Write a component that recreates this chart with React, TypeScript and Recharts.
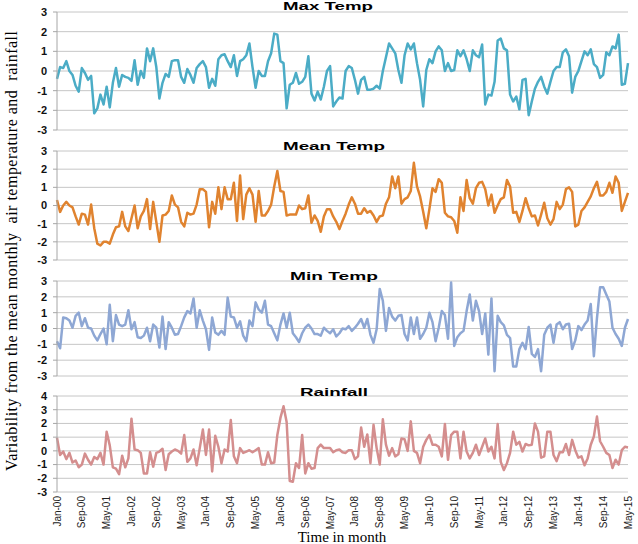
import React from 'react';
import { LineChart, Line, XAxis, YAxis, CartesianGrid } from 'recharts';

const MONTH_NAMES = ['Jan', 'Feb', 'Mar', 'Apr', 'May', 'Jun', 'Jul', 'Aug', 'Sep', 'Oct', 'Nov', 'Dec'];
const MONTH_COUNT = 185; // Jan-00 .. May-15
const categories: string[] = Array.from({ length: MONTH_COUNT }, (_, i) =>
  `${MONTH_NAMES[i % 12]}-${String(Math.floor(i / 12)).padStart(2, '0')}`
);

const TICK_LABELS = [
  'Jan-00', 'Sep-00', 'May-01', 'Jan-02', 'Sep-02', 'May-03', 'Jan-04', 'Sep-04',
  'May-05', 'Jan-06', 'Sep-06', 'May-07', 'Jan-08', 'Sep-08', 'May-09', 'Jan-10',
  'Sep-10', 'May-11', 'Jan-12', 'Sep-12', 'May-13', 'Jan-14', 'Sep-14', 'May-15',
];

const maxTemp = [
  -0.4, 0.2, 0.15, 0.5, 0, -0.2, -0.75, -1.05, 0.15, -0.1,
  -0.45, -0.25, -2.15, -1.9, -1.2, -1.7, -0.8, -1.85, -0.6, 0.15,
  -0.8, -0.2, -0.3, -0.35, -0.5, 0.55, -0.7, 0, -0.35, 1.15,
  0.5, 1.15, 0.2, -1.4, -0.6, -0.15, -0.3, 0.5, 0.55, 0.55,
  -0.3, -0.6, 0.1, -0.2, -0.6, 0.15, 0.35, 0.5, 0.2, -0.85,
  -0.4, -0.75, 0.6, 0.8, 0.85, 0.5, 0.2, 0.8, -0.25, 0.5,
  0.6, 0.8, 1.4, 0.2, -0.85, 0, -0.25, -0.25, 0.5, 0.9,
  1.9, 1.85, 0.5, 0.4, -1.9, -0.7, -0.6, -0.1, -0.65, -0.55,
  -0.3, 0.75, -1.15, -1.5, -1.05, -1.45, -0.8, 0, 0.25, -1.8,
  -1.55, -1.35, -1.4, 0, 0.25, 0.15, -0.45, -1.15, -0.45, -0.3,
  -0.95, -0.95, -0.9, -0.75, -0.9, 0, 0.7, 1.4, 1.15, 0.9,
  0.05, -0.6, 0.8, 1.4, 1.1, 1.4, 0.4, -0.45, -1.8, 0.05,
  0.6, 0.4, 1.0, 1.25, 1.05, 0, 0.4, 0, 0.05, 1.05,
  0.75, 1.05, 0.6, 0, 1.05, 0.8, 0.7, 1.35, -1.7, -1.2,
  -1.25, -0.55, 1.55, 1.65, 1.15, 1.05, -1.2, -1.55, -1.3, -1.95,
  -0.45, -0.4, -2.25, -1.55, -0.9, -0.55, -0.3, -0.8, -1.15, -0.55,
  0, 0.2, 0.2, 0.95, 1.1, 0.75, -1.1, -0.3, 0, 0.5,
  1.0, 0.8, 1.1, 0.35, 0.2, -0.35, -0.2, 0.95, 0.8, 1.25,
  1.15, 1.85, -0.7, -0.65, 0.4,
];

const meanTemp = [
  0.3, -0.35, 0, 0.2, 0, -0.1, -0.6, -1.05, -0.45, -0.5,
  -1.05, 0.05, -1.25, -2.1, -2.2, -2.0, -2.0, -2.1, -1.6, -1.2,
  -1.15, -0.35, -1.15, -1.4, -0.7, 0, -1.25, -0.6, -0.3, 0.35,
  -1.3, 0.2, -0.9, -2.0, -0.55, -0.5, -0.3, 0.55, 0.05, -0.1,
  -0.9, -1.15, -0.4, -0.5, -0.45, 0.05, 0.9, 0.9, 0.75, -1.2,
  0.2, -0.45, 1.0, -0.2, 1.0, 0.35, 0.35, 1.25, -0.85, 1.65,
  -0.75, 0.6, 0.95, 0.6, -0.9, 0.8, -0.55, -0.55, -0.3, 0.05,
  1.05, 1.9, 0.8, 0.75, -0.55, -0.5, -0.5, -0.5, 0, -0.2,
  -0.15, 0.55, -0.95, -0.55, -0.85, -1.45, -0.6, -0.2, -0.2, -0.6,
  -0.9, -1.3, -0.85, -0.45, 0.05, 0.45, 0.1, -0.45, -0.45, -0.15,
  -0.4, -0.3, -0.55, -0.9, -0.6, -0.55, 0.1, 0.45, 1.6, 0.95,
  1.6, 0.1, 0.35, 0.45, 0.8, 2.35, 1.05, 0.5, -0.35, -1.25,
  -0.2, 0.95, 0.75, 1.45, 1.25, -0.4, -0.6, -0.65, -0.85, -1.5,
  0.45, -0.3, 1.4, 0.4, 0.1, 0.95, 1.25, 1.3, 0.9, 0,
  0.6, -0.4, 0, 0.35, 0.45, 1.4, 1.05, -0.4, -0.35, -0.9,
  -0.3, 0.4, -0.15, -0.6, -0.55, -1.1, -0.5, 0.15, -0.7, -1.05,
  -0.75, 0.2, -0.2, 0.05, 0.9, 1.0, 0.75, -1.15, -1.05, -0.3,
  -0.1, 0.2, 0.5, 0.95, 1.3, 0.55, 0.55, 0.75, 1.25, 0.7,
  1.6, 1.25, -0.3, 0.2, 0.7,
];

const minTemp = [
  -0.8, -1.25, 0.7, 0.65, 0.5, 0.05, 0.8, 1.0, 0.15, 0.65,
  0.05, 0, -0.45, -0.75, -0.35, 0, -1.0, 1.5, -0.8, 0.85,
  0.25, 0.15, 0.25, 1.15, -0.05, 0.4, -0.55, -0.6, -0.45, 0.05,
  -0.8, 0.25, 0.05, -1.2, 0.75, -1.3, 0.4, 0.05, -0.4, -0.35,
  0.15, 0.7, 1.1, 0.95, 1.9, 0.05, 1.15, 0.5, -0.05, -1.35,
  0.7, -0.25, -0.4, -0.15, -0.4, 1.95, 0.75, 0.7, 0.05, 0.45,
  -0.45, -0.8, 0.5, 0.15, 1.65, 1.2, 1.0, 1.75, 0.25, 0.15,
  -0.3, -0.75, 0.25, 0.95, 0.05, 1.0, -0.3, -0.55, -0.85, -0.3,
  0.05, 0.25, 0, -0.35, -0.35, -0.45, 0.05, -0.15, -0.3, -0.05,
  -0.5, -0.3, 0, -0.05, 0.15, -0.15, 0.05, 0.3, 0.6, 0.05,
  0.6, -0.4, -0.9, -0.05, 2.5, 1.75, -0.15, 1.3, 0.75, 0.5,
  0.8, 0.85, -0.35, -0.75, 0.7, -0.35, 0.7, -0.65, -0.35, 0.05,
  1.0, 0.4, -0.8, 0.05, 1.1, 0.85, -0.65, 2.9, -1.1, -0.55,
  -0.3, -0.15, 1.1, 2.15, 0.5, 1.75, 1.1, -0.35, 0.95, -1.65,
  1.9, -2.7, 0.8, 0.4, 0.2, -0.4, -0.6, -2.4, -2.4, -1.3,
  -0.9, -1.3, 0.1, -1.6, -1.8, -1.3, -2.7, -0.4, 0.05, 0.25,
  -0.9, 0.25, 0.4, -0.05, 0.25, 0.3, -1.3, -0.75, 0.15, -0.1,
  0.25, 0.5, 1.55, -1.75, 0.65, 2.6, 2.6, 2.15, 1.7, 0.05,
  -0.35, -0.65, -1.1, 0.05, 0.6,
];

const rainfall = [
  0.95, -0.3, -0.05, -0.6, -0.15, -0.85, -0.7, -1.2, -1.0, -0.2,
  -0.65, -1.0, -0.45, -0.6, -0.15, -1.0, 1.4, 0.4, -1.2, -1.3,
  -1.7, -0.35, -1.2, -0.55, 2.35, 0.1, 0.05, -0.15, -1.65, -1.65,
  -0.1, -1.15, -0.15, -0.05, 0.15, -1.4, -0.25, -0.05, 0.1, 0,
  -0.2, 1.15, -0.8, -0.55, 0.1, -1.05, 0.2, 1.55, -0.3, 1.55,
  -1.5, 1.1, 0.3, -0.9, 0.1, -0.05, 2.25, -0.4, -0.9, 0.2,
  -0.15, -0.05, 0.05, -0.1, 0.05, 0.2, -1.0, -1.0, -0.1, -0.9,
  -0.85, 1.15, 2.4, 3.25, 2.1, -2.2, -2.25, -0.9, -1.25, 1.15,
  -1.65, -0.9, -1.3, -1.25, 0.2, 0.45, 0.2, 0.2, 0.2, -0.1,
  0.05, 0.1, -0.1, -0.15, 0.05, 0.05, -0.6, -0.4, 1.7, 0.3,
  1.2, -0.9, 1.9, 0.2, -1.0, 2.3, 0.45, -0.35, 0.2, -0.4,
  -0.25, 0.9, 0.85, 0, 2.15, 0, -0.15, -0.9, 0.3, 0.8,
  1.15, 0.45, 0.45, 0.3, -0.4, 1.95, -0.65, 1.15, 1.4, 1.4,
  -0.55, 1.4, -0.05, -0.55, -0.15, 0.45, -0.3, 0.3, 0.9, -0.05,
  0.3, -0.55, 1.95, -0.8, -1.4, -0.9, -0.15, 1.4, 0.45, 0.65,
  -0.05, 0.5, 0.4, 0.45, 2.0, 1.4, -0.5, -0.4, 1.4, 1.4,
  -0.3, -0.75, -0.1, -0.1, 0.5, -0.3, 0.8, 0.05, -0.5, -0.4,
  -1.05, -0.55, 0.45, 1.05, 2.5, 0.7, 0.3, -0.15, -0.3, -1.25,
  -0.65, -1.0, 0.05, 0.3, 0.25,
];

const rows = categories.map((month, i) => ({
  month,
  max: maxTemp[i],
  mean: meanTemp[i],
  min: minTemp[i],
  rain: rainfall[i],
}));

const PANELS = [
  { key: 'max', title: 'Max Temp', color: '#4BACC6', top: 0, marginTop: 12, plotH: 118, domain: [-3, 3], ticks: [-3, -2, -1, 0, 1, 2, 3], titleX: 328, titleY: 9.5, titleW: 90 },
  { key: 'mean', title: 'Mean Temp', color: '#E0832F', top: 140, marginTop: 11, plotH: 109, domain: [-3, 3], ticks: [-3, -2, -1, 0, 1, 2, 3], titleX: 334, titleY: 149.5, titleW: 102 },
  { key: 'min', title: 'Min Temp', color: '#8EA7D4', top: 270, marginTop: 11, plotH: 95, domain: [-3, 3], ticks: [-3, -2, -1, 0, 1, 2, 3], titleX: 334, titleY: 280, titleW: 88 },
  { key: 'rain', title: 'Rainfall', color: '#D48E8E', top: 385, marginTop: 11, plotH: 96, domain: [-3, 4], ticks: [-3, -2, -1, 0, 1, 2, 3, 4], titleX: 334, titleY: 396, titleW: 68 },
];

const XTick = (props: any) => {
  const { x, y, payload } = props;
  return (
    <text
      x={x}
      y={y}
      transform={`rotate(-90 ${x} ${y})`}
      textAnchor="end"
      dominantBaseline="central"
      fontSize={10}
      fontFamily="'Liberation Sans Narrow', 'Liberation Sans', Arial, sans-serif"
      fill="#222"
    >
      {payload.value}
    </text>
  );
};

export default function App() {
  return (
    <div style={{ position: 'absolute', left: 0, top: 0, width: 638, height: 544, background: '#fff', overflow: 'hidden' }}>
      {PANELS.map((p, idx) => {
        const isBottom = idx === PANELS.length - 1;
        const xAxisH = isBottom ? 50 : 0;
        const bottomPad = isBottom ? 0 : 8;
        const height = p.marginTop + p.plotH + (isBottom ? xAxisH : bottomPad);
        return (
          <div key={p.key} style={{ position: 'absolute', left: 0, top: p.top }}>
            <LineChart
              width={638}
              height={height}
              data={rows}
              margin={{ top: p.marginTop, right: 10, bottom: bottomPad, left: 0 }}
            >
              <CartesianGrid horizontal vertical={false} stroke="#C6C6C6" strokeWidth={1} />
              <XAxis
                dataKey="month"
                hide={!isBottom}
                ticks={TICK_LABELS}
                interval={0}
                tickLine={false}
                axisLine={false}
                tickSize={0}
                tickMargin={4}
                height={xAxisH}
                tick={<XTick />}
              />
              <YAxis
                type="number"
                domain={p.domain}
                ticks={p.ticks}
                interval={0}
                width={57}
                axisLine={{ stroke: '#A6A6A6' }}
                tickLine={{ stroke: '#A6A6A6' }}
                tickSize={4}
                tickMargin={6}
                tick={{ fontSize: 11, fontWeight: 'bold', fill: '#111', fontFamily: "'Liberation Sans', Arial, sans-serif" }}
              />
              <Line
                type="linear"
                dataKey={p.key}
                stroke={p.color}
                strokeWidth={2.5}
                dot={false}
                activeDot={false}
                strokeLinejoin="round"
                isAnimationActive={false}
              />
            </LineChart>
          </div>
        );
      })}
      <svg width={638} height={544} style={{ position: 'absolute', left: 0, top: 0, pointerEvents: 'none' }}>
        {PANELS.map((p) => (
          <text
            key={p.key}
            x={p.titleX}
            y={p.titleY}
            textAnchor="middle"
            textLength={p.titleW}
            lengthAdjust="spacingAndGlyphs"
            fontFamily="'Liberation Sans', Arial, sans-serif"
            fontWeight="bold"
            fontSize={11}
            fill="#000"
          >
            {p.title}
          </text>
        ))}
        <text
          transform="rotate(-90)"
          x={-251}
          y={17}
          textAnchor="middle"
          textLength={440}
          lengthAdjust="spacing"
          fontFamily="'Liberation Serif', 'Times New Roman', serif"
          fontSize={16}
          fill="#000"
          style={{ whiteSpace: 'pre' }}
        >
          {'Variability from the mean monthly  air temperature and  rainfall'}
        </text>
        <text
          x={342}
          y={542}
          textAnchor="middle"
          fontFamily="'Liberation Serif', 'Times New Roman', serif"
          fontSize={15}
          fill="#000"
        >
          Time in month
        </text>
      </svg>
    </div>
  );
}
